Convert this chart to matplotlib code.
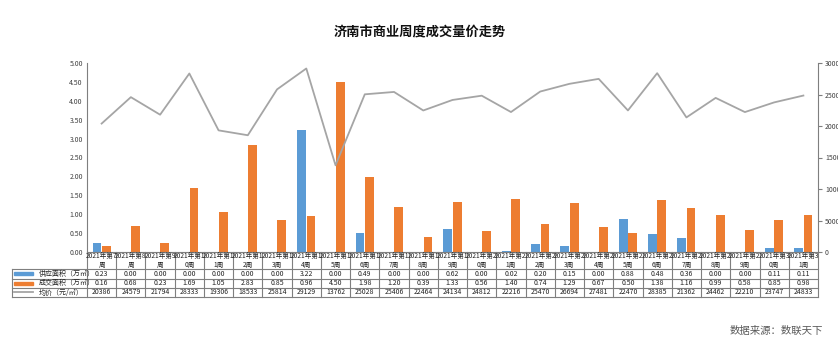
import numpy as np
import matplotlib.pyplot as plt

plt.rcParams['font.family'] = ['Noto Sans CJK SC', 'DejaVu Sans']

# 数据
weeks = list(range(7, 32))
supply = [0.23, 0.00, 0.00, 0.00, 0.00, 0.00, 0.00, 3.22, 0.00, 0.49, 0.00, 0.00, 0.62,
          0.00, 0.02, 0.20, 0.15, 0.00, 0.88, 0.48, 0.36, 0.00, 0.00, 0.11, 0.11]
deal = [0.16, 0.68, 0.23, 1.69, 1.05, 2.83, 0.85, 0.96, 4.50, 1.98, 1.20, 0.39, 1.33,
        0.56, 1.40, 0.74, 1.29, 0.67, 0.50, 1.38, 1.16, 0.99, 0.58, 0.85, 0.98]
price = [20386, 24579, 21794, 28333, 19306, 18533, 25814, 29129, 13762, 25028, 25406, 22464, 24134,
         24812, 22216, 25470, 26694, 27481, 22470, 28385, 21362, 24462, 22210, 23747, 24833]

blue = '#5B9BD5'
orange = '#ED7D31'
gray = '#A5A5A5'
line_c = '#7F7F7F'

W, H = 838, 348
fig = plt.figure(figsize=(W / 100, H / 100), dpi=100)

# 主图区域（像素）
L, R, T, B = 87, 818, 63, 252
ax = fig.add_axes([L / W, 1 - B / H, (R - L) / W, (B - T) / H])
x = np.arange(len(weeks))
bw = 0.3
ax.bar(x - bw / 2 - 0.01, supply, width=bw, color=blue)
ax.bar(x + bw / 2 + 0.01, deal, width=bw, color=orange)
ax.set_xlim(-0.5, len(weeks) - 0.5)
ax.set_ylim(0, 5)
ax.set_yticks(np.arange(0, 5.01, 0.5))
ax.set_yticklabels([f'{v:.2f}' for v in np.arange(0, 5.01, 0.5)], fontsize=5, color='#404040')
ax.set_xticks([])
ax.tick_params(axis='y', length=0, pad=3)
for s in ['top', 'right', 'bottom']:
    ax.spines[s].set_visible(False)
ax.spines['left'].set_color(line_c)
ax.spines['left'].set_linewidth(0.8)
ax.patch.set_alpha(0)

ax2 = ax.twinx()
ax2.plot(x, price, color=gray, linewidth=1.3)
ax2.set_ylim(0, 30000)
ax2.set_yticks(range(0, 30001, 5000))
ax2.set_yticklabels([str(v) for v in range(0, 30001, 5000)], fontsize=5, color='#404040')
ax2.tick_params(axis='y', length=3, color=line_c, pad=2)
for s in ['top', 'left', 'bottom']:
    ax2.spines[s].set_visible(False)
ax2.spines['right'].set_color(line_c)
ax2.spines['right'].set_linewidth(0.8)

# 数据表
tax = fig.add_axes([L / W, 1 - 297 / H, (R - L) / W, (297 - B) / H])
tax.set_xlim(-0.5, len(weeks) - 0.5)
tax.set_ylim(297, 252)
tax.axis('off')
unit = (R - L) / len(weeks)
x0 = -0.5 - (L - 12) / unit
rows = [252, 269, 279, 288, 297]
kw = dict(color=line_c, linewidth=0.8, clip_on=False)
tax.plot([-0.5, len(weeks) - 0.5], [252, 252], **kw)
for yy in rows[1:]:
    tax.plot([x0, len(weeks) - 0.5], [yy, yy], **kw)
tax.plot([x0, x0], [269, 297], **kw)
for i in range(len(weeks) + 1):
    tax.plot([i - 0.5, i - 0.5], [252, 297], **kw)

for i, w in enumerate(weeks):
    s = str(w)
    lab = f'2021年第{s[:-1] if len(s) > 1 else s}\n{s[-1] if len(s) > 1 else ""}周'
    tax.text(i, 260.5, lab, ha='center', va='center', fontsize=4.8, linespacing=1.05, color='#222222')
    tax.text(i, 274, f'{supply[i]:.2f}', ha='center', va='center', fontsize=5, color='#222222')
    tax.text(i, 283.5, f'{deal[i]:.2f}', ha='center', va='center', fontsize=5, color='#222222')
    tax.text(i, 292.5, f'{price[i]}', ha='center', va='center', fontsize=5, color='#222222')

sx0 = x0 + 2 / unit
sx1 = x0 + 21 / unit
tx = x0 + 27 / unit
tax.add_patch(plt.Rectangle((sx0, 272.5), sx1 - sx0, 3, color=blue, clip_on=False))
tax.add_patch(plt.Rectangle((sx0, 282), sx1 - sx0, 3, color=orange, clip_on=False))
tax.plot([sx0, sx1], [292.5, 292.5], color=gray, linewidth=1.3, clip_on=False)
tax.text(tx, 274, '供应面积（万㎡）', ha='left', va='center', fontsize=5, color='#222222')
tax.text(tx, 283.5, '成交面积（万㎡）', ha='left', va='center', fontsize=5, color='#222222')
tax.text(tx, 292.5, '均价（元/㎡）', ha='left', va='center', fontsize=5, color='#222222')

fig.text(420 / W, 1 - 32 / H, '济南市商业周度成交量价走势', ha='center', va='center',
         fontsize=9.5, fontweight='bold', color='#111111')
fig.text(823 / W, 1 - 331 / H, '数据来源：数联天下', ha='right', va='center',
         fontsize=7.5, color='#595959')

fig.savefig('out.png', dpi=100)
